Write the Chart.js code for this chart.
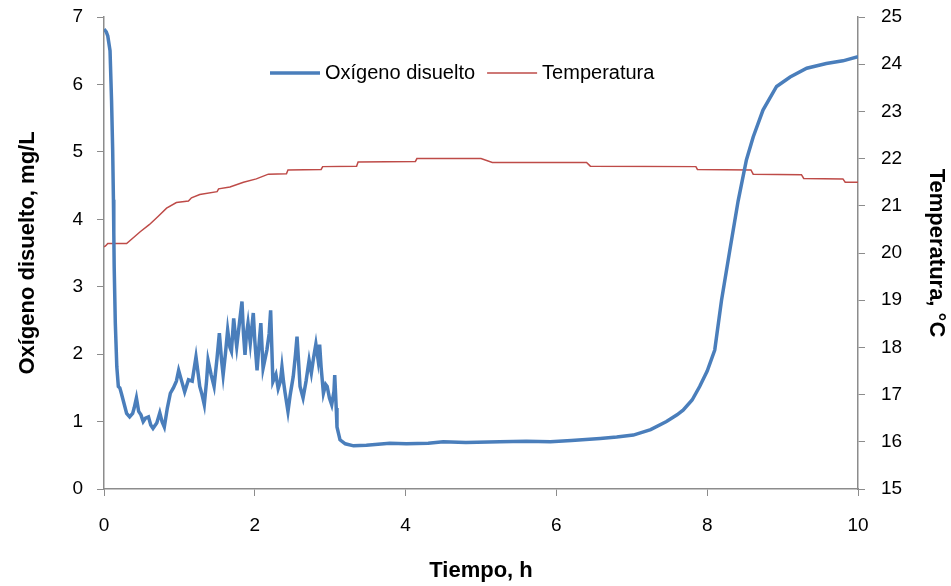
<!DOCTYPE html>
<html>
<head>
<meta charset="utf-8">
<script src="https://cdn.jsdelivr.net/npm/chart.js@4/dist/chart.umd.min.js"></script>
<style>
  body { margin: 0; background: #fff; }
  #contenedor { width: 951px; height: 586px; }
</style>
</head>
<body>
<div id="contenedor"><canvas id="grafica" width="951" height="586"></canvas></div>
<script>
// Oxígeno disuelto (mg/L) frente al tiempo (h)
const tiempoOD = [0, 0.03, 0.05, 0.08, 0.1, 0.115, 0.125, 0.13, 0.135, 0.15, 0.17, 0.19, 0.21, 0.23, 0.27, 0.3,
    0.34, 0.38, 0.4, 0.43, 0.46, 0.49, 0.52, 0.55, 0.59, 0.62, 0.65, 0.7, 0.74, 0.77, 0.8, 0.84, 0.88, 0.92,
    0.96, 0.99, 1.03, 1.07, 1.12, 1.17, 1.22, 1.25, 1.27, 1.3, 1.33, 1.36, 1.38, 1.42, 1.46, 1.5, 1.53, 1.56,
    1.58, 1.61, 1.64, 1.67, 1.69, 1.72, 1.74, 1.76, 1.8, 1.83, 1.85, 1.87, 1.89, 1.91, 1.94, 1.98, 2.0, 2.03,
    2.06, 2.08, 2.11, 2.16, 2.19, 2.21, 2.24, 2.28, 2.31, 2.34, 2.36, 2.38, 2.4, 2.44, 2.47, 2.51, 2.54, 2.56,
    2.58, 2.6, 2.64, 2.68, 2.72, 2.75, 2.78, 2.81, 2.84, 2.86, 2.88, 2.91, 2.94, 2.96, 2.99, 3.02, 3.05, 3.06,
    3.08, 3.09, 3.13, 3.2, 3.31, 3.48, 3.79, 4.01, 4.3, 4.5, 4.8, 5.25, 5.6, 5.92, 6.2, 6.58, 6.8, 7.02, 7.25,
    7.46, 7.6, 7.68, 7.8, 7.9, 8.0, 8.1, 8.19, 8.3, 8.41, 8.52, 8.61, 8.74, 8.92, 9.1, 9.32, 9.58, 9.8, 10.0];
const oxigeno = [6.82, 6.78, 6.72, 6.5, 5.77, 5.03, 4.29, 3.8, 3.3, 2.46, 1.81, 1.52, 1.5, 1.42, 1.25, 1.12,
    1.07, 1.12, 1.2, 1.35, 1.15, 1.1, 1.0, 1.05, 1.07, 0.95, 0.9, 0.98, 1.13, 1.0, 0.92, 1.2, 1.42, 1.5,
    1.6, 1.76, 1.6, 1.44, 1.62, 1.6, 1.96, 1.7, 1.52, 1.4, 1.25, 1.6, 1.91, 1.7, 1.52, 1.95, 2.31, 1.9,
    1.69, 2.0, 2.36, 2.1, 2.04, 2.53, 2.3, 2.11, 2.5, 2.78, 2.3, 1.99, 2.3, 2.46, 2.16, 2.61, 2.2, 1.76,
    2.2, 2.46, 1.79, 2.06, 2.3, 2.65, 1.59, 1.7, 1.49, 1.6, 1.81, 1.6, 1.44, 1.15, 1.4, 1.67, 2.0, 2.26,
    1.9, 1.52, 1.35, 1.6, 1.91, 1.72, 1.95, 2.15, 1.91, 2.14, 1.8, 1.42, 1.55, 1.52, 1.35, 1.25, 1.45, 1.69,
    1.2, 0.92, 0.73, 0.67, 0.64, 0.65, 0.68, 0.67, 0.68, 0.7, 0.69, 0.7, 0.71, 0.7, 0.72, 0.75, 0.77, 0.8, 0.88,
    1.0, 1.1, 1.17, 1.32, 1.52, 1.75, 2.06, 2.8, 3.54, 4.27, 4.88, 5.22, 5.62, 5.97, 6.11, 6.24, 6.31, 6.35, 6.41];

// Temperatura (°C) frente al tiempo (h)
const tiempoT = [0, 0.02, 0.05, 0.3, 0.35, 0.48, 0.6, 0.72, 0.83, 0.96, 1.12, 1.16, 1.27, 1.5, 1.52, 1.67,
    1.85, 2.02, 2.18, 2.42, 2.44, 2.88, 2.9, 3.35, 3.37, 4.13, 4.15, 5.0, 5.15, 6.4, 6.45, 7.85, 7.87, 8.58,
    8.61, 9.25, 9.28, 9.8, 9.83, 10.0];
const temperatura = [20.13, 20.15, 20.2, 20.2, 20.27, 20.45, 20.6, 20.78, 20.95, 21.07, 21.1, 21.17, 21.24,
    21.3, 21.36, 21.4, 21.5, 21.57, 21.67, 21.68, 21.76, 21.77, 21.83, 21.84, 21.93, 21.94, 22.0, 22.0, 21.92,
    21.92, 21.84, 21.83, 21.77, 21.76, 21.67, 21.66, 21.58, 21.57, 21.5, 21.5];

// Ticks de los ejes
const ticksX = [0, 2, 4, 6, 8, 10];
const ticksOD = [0, 1, 2, 3, 4, 5, 6, 7];
const ticksT = [15, 16, 17, 18, 19, 20, 21, 22, 23, 24, 25];

const colorEje = '#8c8c8c';
const fuente = 'Liberation Sans, Arial, sans-serif';

// Leyenda dibujada dentro del área del gráfico
const leyendaInterna = {
    id: 'leyendaInterna',
    afterDraw(chart) {
        const ctx = chart.ctx;
        let x = 270;
        const y = 73;
        ctx.save();
        ctx.font = '20px ' + fuente;
        ctx.textBaseline = 'middle';
        chart.data.datasets.forEach((ds) => {
            ctx.strokeStyle = ds.borderColor;
            ctx.lineWidth = ds.borderWidth;
            ctx.beginPath();
            ctx.moveTo(x, y);
            ctx.lineTo(x + 50, y);
            ctx.stroke();
            ctx.fillStyle = '#000';
            ctx.fillText(ds.label, x + 55, y);
            x += 55 + ctx.measureText(ds.label).width + 12;
        });
        ctx.restore();
    }
};

// Ancho fijo para los ejes verticales, sin margen extra arriba/abajo
function ajustarVertical(ancho) {
    return (s) => {
        s.width = ancho;
        s.paddingTop = 0;
        s.paddingBottom = 0;
    };
}

const ctx = document.getElementById('grafica').getContext('2d');
new Chart(ctx, {
    type: 'line',
    data: {
        datasets: [
            {
                label: 'Oxígeno disuelto',
                data: tiempoOD.map((t, i) => ({ x: t, y: oxigeno[i] })),
                borderColor: '#4A7EBB',
                borderWidth: 3.5,
                pointRadius: 0,
                tension: 0,
                yAxisID: 'y'
            },
            {
                label: 'Temperatura',
                data: tiempoT.map((t, i) => ({ x: t, y: temperatura[i] })),
                borderColor: '#BE4B48',
                borderWidth: 1.5,
                pointRadius: 0,
                tension: 0,
                yAxisID: 'y1'
            }
        ]
    },
    options: {
        responsive: false,
        animation: false,
        layout: { padding: { top: 17, left: 0, right: 0, bottom: 0 } },
        plugins: {
            legend: { display: false },
            tooltip: { enabled: false }
        },
        scales: {
            x: {
                type: 'linear',
                min: 0,
                max: 10,
                afterBuildTicks: (s) => { s.ticks = ticksX.map(v => ({ value: v })); },
                afterFit: (s) => { s.height = 97; s.paddingLeft = 0; s.paddingRight = 0; },
                grid: { drawOnChartArea: false, color: colorEje, tickLength: 7 },
                border: { color: colorEje, width: 1.5 },
                ticks: { color: '#000', padding: 18, font: { family: fuente, size: 19 } },
                title: {
                    display: true,
                    text: 'Tiempo, h',
                    color: '#000',
                    font: { family: fuente, size: 22, weight: 'bold' },
                    padding: { top: 0, bottom: 2 }
                }
            },
            y: {
                position: 'left',
                min: 0,
                max: 7,
                afterBuildTicks: (s) => { s.ticks = ticksOD.map(v => ({ value: v })); },
                afterFit: ajustarVertical(104),
                grid: { drawOnChartArea: false, color: colorEje, tickLength: 7 },
                border: { color: colorEje, width: 1.5 },
                ticks: { color: '#000', padding: 14, font: { family: fuente, size: 19 } },
                title: {
                    display: true,
                    text: 'Oxígeno disuelto, mg/L',
                    color: '#000',
                    font: { family: fuente, size: 22, weight: 'bold' },
                    padding: { top: 15, bottom: 0 }
                }
            },
            y1: {
                position: 'right',
                min: 15,
                max: 25,
                afterBuildTicks: (s) => { s.ticks = ticksT.map(v => ({ value: v })); },
                afterFit: ajustarVertical(93),
                grid: { drawOnChartArea: false, color: colorEje, tickLength: 7 },
                border: { color: colorEje, width: 1.5 },
                ticks: { color: '#000', padding: 16, font: { family: fuente, size: 19 } },
                title: {
                    display: true,
                    text: 'Temperatura, °C',
                    color: '#000',
                    font: { family: fuente, size: 22, weight: 'bold' },
                    padding: { top: 2, bottom: 0 }
                }
            }
        }
    },
    plugins: [leyendaInterna]
});
</script>
</body>
</html>
